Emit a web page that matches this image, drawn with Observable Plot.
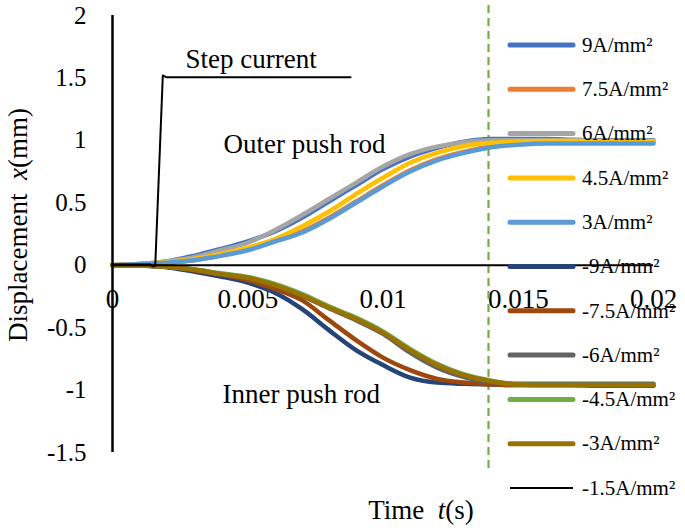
<!DOCTYPE html>
<html><head><meta charset="utf-8">
<script src="https://cdn.jsdelivr.net/npm/d3@7"></script>
<script src="https://cdn.jsdelivr.net/npm/@observablehq/plot@0.6"></script>
<style>
body{margin:0;background:#fff;}
#chart svg{font-family:"Liberation Serif","Times New Roman",serif;}
</style></head><body><div id="chart"></div>
<script>
// ---- data ----
const time = [0,0.001,0.002,0.003,0.004,0.005,0.006,0.007,0.008,0.009,0.010,0.011,0.012,0.013,0.014,0.015,0.016,0.017,0.018,0.019,0.020];
const pos9   = [0,0.01,0.03,0.075,0.13,0.19,0.27,0.38,0.51,0.64,0.77,0.87,0.94,0.99,1.01,1.01,1.01,1.005,1.0,1.0,1.0];
const pos7_5 = [0,0.008,0.02,0.04,0.08,0.13,0.20,0.27,0.38,0.51,0.64,0.76,0.85,0.91,0.95,0.97,0.985,0.99,0.99,0.99,0.99];
const pos6   = [0,0.01,0.03,0.065,0.12,0.18,0.28,0.40,0.53,0.66,0.79,0.89,0.95,0.985,1.0,1.0,1.0,1.0,0.995,0.995,0.995];
const pos4_5 = [0,0.008,0.025,0.05,0.09,0.14,0.21,0.31,0.43,0.57,0.70,0.82,0.90,0.955,0.98,0.99,0.995,0.995,0.995,0.995,0.995];
const pos3   = [0,0.008,0.02,0.04,0.075,0.12,0.19,0.26,0.37,0.50,0.63,0.75,0.84,0.90,0.945,0.965,0.975,0.975,0.975,0.975,0.975];
const neg9   = [0,-0.003,-0.016,-0.05,-0.09,-0.14,-0.22,-0.35,-0.52,-0.68,-0.80,-0.90,-0.94,-0.95,-0.955,-0.96,-0.96,-0.96,-0.965,-0.965,-0.965];
const neg7_5 = [0,-0.003,-0.012,-0.04,-0.075,-0.12,-0.19,-0.28,-0.44,-0.60,-0.74,-0.84,-0.91,-0.94,-0.955,-0.96,-0.96,-0.96,-0.96,-0.96,-0.96];
const neg6   = [0,-0.002,-0.01,-0.035,-0.07,-0.10,-0.16,-0.245,-0.345,-0.44,-0.55,-0.70,-0.82,-0.895,-0.935,-0.95,-0.95,-0.95,-0.95,-0.95,-0.95];
const neg4_5 = [0,-0.002,-0.01,-0.033,-0.065,-0.095,-0.15,-0.23,-0.33,-0.42,-0.53,-0.67,-0.79,-0.875,-0.925,-0.955,-0.96,-0.96,-0.96,-0.96,-0.96];
const neg3   = [0,-0.002,-0.01,-0.035,-0.07,-0.10,-0.16,-0.24,-0.34,-0.43,-0.54,-0.68,-0.80,-0.88,-0.93,-0.955,-0.96,-0.96,-0.96,-0.96,-0.96];

const seriesNames  = ["9A/mm²","7.5A/mm²","6A/mm²","4.5A/mm²","3A/mm²","-9A/mm²","-7.5A/mm²","-6A/mm²","-4.5A/mm²","-3A/mm²"];
const seriesColors = ["#4472C4","#ED7D31","#A5A5A5","#FFC000","#5B9BD5","#264478","#9E480E","#636363","#70AD47","#997300"];
const seriesValues = [pos9,pos7_5,pos6,pos4_5,pos3,neg9,neg7_5,neg6,neg4_5,neg3];

const stepName  = "-1.5A/mm²";
const stepTime  = [0,0.0014,0.0015,0.00158,0.00186,0.0020,0.0088];
const stepValue = [0.005,0.005,-0.01,-0.005,1.52,1.505,1.505];

const yTicks = [2,1.5,1,0.5,0,-0.5,-1,-1.5];
const xTicks = [0,0.005,0.01,0.015,0.02];
const xTickLabels = ["0","0.005","0.01","0.015","0.02"];

const annotations = [
  {t:0.0027, v:1.576, text:"Step current"},
  {t:0.0041, v:0.902, text:"Outer push rod"},
  {t:0.00407, v:-1.10, text:"Inner push rod"}
];
const markerTime = 0.0139;
const markerFrom = 2.08, markerTo = -1.63;

// ---- build ----
const lineMarks = seriesValues.map((vals, i) =>
  Plot.line(vals.map((v, j) => ({t: time[j], v})), {
    x: "t", y: "v", stroke: seriesColors[i], strokeWidth: 4.5, curve: "monotone-x"
  })
);
const stepRows = stepTime.map((t, i) => ({t, v: stepValue[i]}));

const plot = Plot.plot({
  width: 685, height: 530,
  marginLeft: 112, marginRight: 32, marginTop: 15, marginBottom: 78,
  x: {domain: [0, 0.02], range: [112, 653], axis: null},
  y: {domain: [-1.5, 2], range: [452, 15], axis: null},
  style: {fontFamily: "'Liberation Serif','Times New Roman',serif", background: "white", color: "black"},
  marks: [
    Plot.axisY(yTicks, {tickSize: 0, tickPadding: 26, fontSize: 25, tickFormat: d => String(d), fill: "black", label: null}),
    Plot.text(xTicks, {x: d => d, y: () => 0, dy: 34, text: (d, i) => xTickLabels[i], fontSize: 27, fill: "black"}),
    Plot.ruleX([markerTime], {y1: markerFrom, y2: markerTo, stroke: "#70AD47", strokeWidth: 2.2, strokeDasharray: "8,5"}),
    ...lineMarks,
    Plot.ruleY([0], {stroke: "black", strokeWidth: 2}),
    Plot.ruleX([0], {stroke: "black", strokeWidth: 2.5}),
    Plot.line(stepRows, {x: "t", y: "v", stroke: "black", strokeWidth: 2}),
    Plot.text(annotations, {x: "t", y: "v", text: "text", textAnchor: "start", lineAnchor: "bottom", fontSize: 27, fill: "black"})
  ]
});

const svg = d3.select(plot);
// legend
const legendNames = [...seriesNames, stepName];
const legendColors = [...seriesColors, "black"];
const lg = svg.append("g").attr("text-anchor", "start");
legendNames.forEach((name, i) => {
  const y = 45 + i * 44.3;
  lg.append("line").attr("x1", 510).attr("x2", 573).attr("y1", y).attr("y2", y)
    .attr("stroke", legendColors[i]).attr("stroke-width", i === 10 ? 2 : 5)
    .attr("stroke-linecap", i === 10 ? "butt" : "round");
  lg.append("text").attr("x", 582).attr("y", y).attr("dy", "0.32em").attr("text-anchor", "start")
    .attr("font-size", 21).attr("fill", "black").text(name);
});
// axis titles
const yt = svg.append("text").attr("transform", "translate(27,225) rotate(-90)")
  .attr("text-anchor", "middle").attr("font-size", 27).attr("fill", "black").style("white-space", "pre");
yt.append("tspan").text("Displacement  ");
yt.append("tspan").attr("font-style", "italic").text("x");
yt.append("tspan").text("(mm)");
const xt = svg.append("text").attr("x", 421).attr("y", 519)
  .attr("text-anchor", "middle").attr("font-size", 27).attr("fill", "black").style("white-space", "pre");
xt.append("tspan").text("Time  ");
xt.append("tspan").attr("font-style", "italic").text("t");
xt.append("tspan").text("(s)");

document.getElementById("chart").appendChild(plot);
</script></body></html>
